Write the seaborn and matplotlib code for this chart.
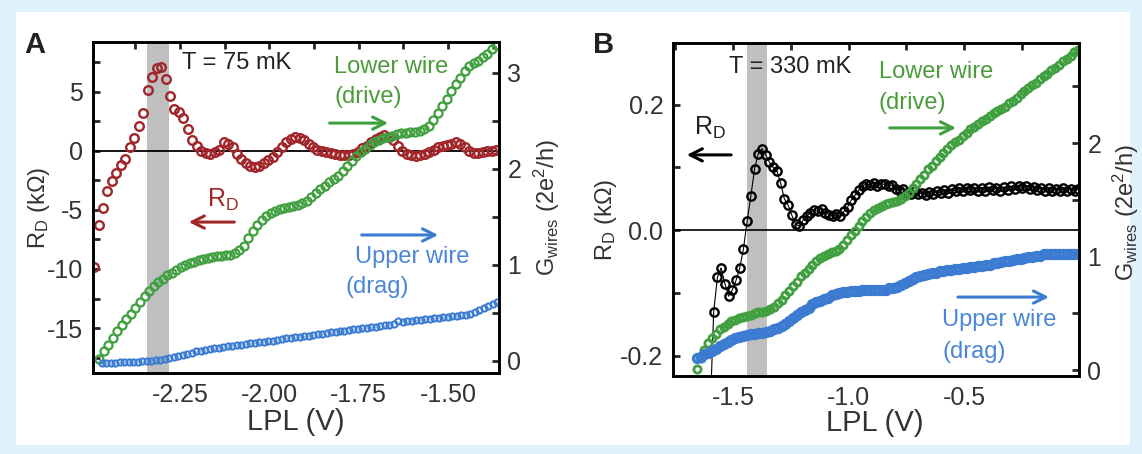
import numpy as np
import seaborn as sns
import matplotlib.pyplot as plt
from matplotlib.patches import Rectangle

sns.set_style("white")
plt.rcParams['font.family'] = ['Liberation Sans', 'DejaVu Sans']
plt.rcParams['mathtext.fontset'] = 'custom'
plt.rcParams['mathtext.rm'] = 'Liberation Sans'
plt.rcParams['mathtext.it'] = 'Liberation Sans:italic'
plt.rcParams['mathtext.default'] = 'regular'
plt.rcParams['axes.unicode_minus'] = False

# ---- panel A data (T = 75 mK) ----
rd_a_range = (-2.490, -1.365)
rd_a = [-9.8, -6.3, -4.8, -3.4, -2.6, -1.9, -1.2, -0.7, 0.3, 1.1,
        2.1, 3.2, 5.1, 6.2, 7.0, 7.1, 6.1, 4.6, 3.5, 3.3,
        2.8, 1.8, 0.9, 0.4, 0.0, -0.2, -0.25, -0.1, 0.1, 0.7,
        0.6, 0.3, -0.3, -0.7, -1.0, -1.3, -1.4, -1.3, -1.0, -0.8,
        -0.5, -0.1, 0.3, 0.7, 1.0, 1.15, 1.1, 0.9, 0.6, 0.3,
        0.1, 0.0, -0.1, -0.2, -0.3, -0.35, -0.4, -0.35, -0.3, -0.1,
        0.2, 0.4, 0.7, 1.0, 1.2, 1.3, 1.2, 0.9, 0.4, 0.0,
        -0.3, -0.4, -0.45, -0.4, -0.3, -0.1, 0.1, 0.3, 0.4, 0.45,
        0.6, 0.7, 0.6, 0.3, 0.0, -0.2, -0.2, -0.1, 0.0, 0.0, 0.05]

g_low_a_range = (-2.475, -1.365)
g_low_a = [0.02, 0.10, 0.17, 0.24, 0.31, 0.37, 0.44, 0.49, 0.55, 0.61,
           0.68, 0.73, 0.78, 0.82, 0.85, 0.89, 0.92, 0.95, 0.98, 1.00,
           1.02, 1.03, 1.05, 1.06, 1.07, 1.08, 1.09, 1.09, 1.10, 1.10,
           1.12, 1.15, 1.20, 1.28, 1.35, 1.42, 1.47, 1.51, 1.54, 1.56,
           1.58, 1.59, 1.60, 1.61, 1.62, 1.64, 1.67, 1.71, 1.75, 1.79,
           1.82, 1.86, 1.89, 1.93, 1.98, 2.03, 2.08, 2.13, 2.17, 2.21,
           2.25, 2.28, 2.30, 2.32, 2.33, 2.34, 2.36, 2.37, 2.37, 2.38,
           2.38, 2.39, 2.41, 2.45, 2.51, 2.58, 2.65, 2.73, 2.81, 2.88,
           2.95, 3.02, 3.07, 3.10, 3.12, 3.16, 3.20, 3.25, 3.29]

g_up_a_range = (-2.468, -1.362)
g_up_a = [-0.02, -0.02, -0.02, -0.02, -0.015, -0.015, -0.01, -0.01, -0.01, -0.005,
          0.0, 0.0, 0.01, 0.015, 0.02, 0.03, 0.045, 0.055, 0.065, 0.075,
          0.085, 0.10, 0.105, 0.115, 0.12, 0.13, 0.14, 0.15, 0.155, 0.16,
          0.165, 0.17, 0.175, 0.185, 0.19, 0.195, 0.20, 0.205, 0.21, 0.22,
          0.23, 0.235, 0.24, 0.245, 0.25, 0.26, 0.265, 0.27, 0.28, 0.285,
          0.29, 0.30, 0.305, 0.31, 0.315, 0.32, 0.33, 0.335, 0.34, 0.345,
          0.35, 0.355, 0.36, 0.37, 0.375, 0.39, 0.42, 0.41, 0.415, 0.42,
          0.425, 0.43, 0.435, 0.44, 0.445, 0.45, 0.455, 0.46, 0.465, 0.47,
          0.475, 0.48, 0.49, 0.51, 0.53, 0.55, 0.57, 0.59, 0.61]

# ---- panel B data (T = 330 mK) ----
rd_b_range = (-1.600, -0.005)
rd_b = [-0.30, -0.13, -0.075, -0.06, -0.085, -0.105, -0.095, -0.08, -0.06, -0.03,
        0.015, 0.055, 0.098, 0.122, 0.13, 0.12, 0.108, 0.10, 0.094, 0.075,
        0.05, 0.04, 0.024, 0.01, 0.007, 0.016, 0.022, 0.028, 0.032, 0.030,
        0.034, 0.028, 0.025, 0.022, 0.026, 0.022, 0.03, 0.037, 0.048, 0.056,
        0.064, 0.070, 0.074, 0.072, 0.075, 0.070, 0.074, 0.073, 0.070, 0.072,
        0.066, 0.063, 0.065, 0.06, 0.058, 0.062, 0.057, 0.060, 0.056, 0.061,
        0.058, 0.062, 0.059, 0.064, 0.060, 0.066, 0.062, 0.067, 0.063, 0.068,
        0.064, 0.067, 0.062, 0.068, 0.063, 0.069, 0.064, 0.067, 0.063, 0.069,
        0.064, 0.070, 0.066, 0.071, 0.067, 0.070, 0.065, 0.069, 0.064, 0.068,
        0.063, 0.067, 0.062, 0.066, 0.063, 0.067, 0.062, 0.066, 0.063, 0.065]

g_b_range = (-1.657, -0.005)
g_low_b = [0.01, 0.11, 0.18, 0.24, 0.28, 0.32, 0.36, 0.38, 0.41, 0.43,
           0.44, 0.46, 0.47, 0.48, 0.49, 0.50, 0.51, 0.51, 0.52, 0.54,
           0.56, 0.59, 0.62, 0.66, 0.70, 0.74, 0.78, 0.83, 0.86, 0.89,
           0.93, 0.96, 0.99, 1.01, 1.02, 1.04, 1.05, 1.07, 1.10, 1.15,
           1.19, 1.23, 1.27, 1.31, 1.35, 1.38, 1.41, 1.43, 1.45, 1.46,
           1.47, 1.48, 1.49, 1.51, 1.53, 1.56, 1.60, 1.64, 1.68, 1.72,
           1.77, 1.80, 1.84, 1.88, 1.91, 1.95, 1.98, 2.01, 2.03, 2.06,
           2.09, 2.12, 2.14, 2.17, 2.19, 2.21, 2.24, 2.26, 2.28, 2.30,
           2.32, 2.35, 2.37, 2.40, 2.43, 2.46, 2.48, 2.51, 2.53, 2.56,
           2.59, 2.61, 2.64, 2.66, 2.69, 2.72, 2.74, 2.77, 2.80, 2.82]

g_up_b = [0.11, 0.12, 0.14, 0.15, 0.17, 0.19, 0.21, 0.23, 0.25, 0.27,
          0.28, 0.29, 0.30, 0.31, 0.32, 0.32, 0.33, 0.33, 0.34, 0.35,
          0.36, 0.37, 0.39, 0.41, 0.43, 0.46, 0.49, 0.51, 0.53, 0.55,
          0.58, 0.60, 0.61, 0.63, 0.64, 0.66, 0.67, 0.68, 0.69, 0.69,
          0.70, 0.70, 0.70, 0.71, 0.71, 0.71, 0.71, 0.71, 0.71, 0.71,
          0.72, 0.72, 0.73, 0.75, 0.77, 0.79, 0.80, 0.82, 0.83, 0.84,
          0.85, 0.86, 0.86, 0.87, 0.87, 0.88, 0.88, 0.89, 0.89, 0.90,
          0.90, 0.91, 0.91, 0.92, 0.92, 0.93, 0.93, 0.94, 0.94, 0.95,
          0.96, 0.96, 0.97, 0.98, 0.98, 0.99, 1.00, 1.00, 1.01, 1.01,
          1.02, 1.02, 1.02, 1.02, 1.02, 1.02, 1.02, 1.02, 1.02, 1.02]

band_a = (-2.342, -2.281)
band_b = (-1.440, -1.355)

RED = '#a1262a'
GREEN = '#40a040'
BLUE = '#3b7bd2'
TXT = '#333333'


def sweep(rng, vals):
    return np.linspace(rng[0], rng[1], len(vals))


def circles(ax, x, y, color, ms, mew, lw=0):
    sns.lineplot(x=x, y=y, ax=ax, color=color, lw=lw, marker='o', markersize=ms,
                 markerfacecolor='none', markeredgecolor=color,
                 markeredgewidth=mew, sort=False, estimator=None)


def style(ax, ax2):
    for a in (ax, ax2):
        for sp in a.spines.values():
            sp.set_linewidth(1.9)
            sp.set_color('black')
    ax.tick_params(which='both', direction='in', length=5, width=2,
                   top=True, right=False, labelsize=18, labelcolor=TXT, pad=7)
    ax2.tick_params(which='both', direction='in', length=5, width=2,
                    labelsize=18, labelcolor=TXT, pad=6)


fig = plt.figure(figsize=(11.42, 4.54), dpi=100)
fig.patch.set_facecolor('#dff1fa')
fig.add_artist(Rectangle((16/1142, 9/454), 1114/1142, 433/454,
                         transform=fig.transFigure, facecolor='white',
                         edgecolor='none', zorder=-1))

# ================= panel A =================
axA = fig.add_axes([93/1142, 81/454, 406/1142, 331/454])
axA2 = axA.twinx()
axA.axvspan(*band_a, color='#bfbfbf', lw=0, zorder=0)
axA.axhline(0, color='black', lw=1.3, zorder=1)
circles(axA, sweep(rd_a_range, rd_a), rd_a, RED, 6.2, 1.7)
circles(axA2, sweep(g_low_a_range, g_low_a), g_low_a, GREEN, 5.8, 1.6)
circles(axA2, sweep(g_up_a_range, g_up_a), g_up_a, BLUE, 4.4, 1.5)

axA.set_xlim(-2.493, -1.357)
axA.set_ylim(-18.8, 9.2)
axA2.set_ylim(-0.125, 3.32)
axA.set_xticks([-2.25, -2.0, -1.75, -1.5])
axA.set_xticks([-2.375, -2.125, -1.875, -1.625, -1.375], minor=True)
axA.set_xticklabels(['-2.25', '-2.00', '-1.75', '-1.50'])
axA.set_yticks([-15, -10, -5, 0, 5])
axA.set_yticks([-17.5, -12.5, -7.5, -2.5, 2.5, 7.5], minor=True)
axA2.set_yticks([0, 1, 2, 3])
axA2.set_yticks([0.5, 1.5, 2.5], minor=True)
style(axA, axA2)

axA.set_xlabel('LPL (V)', fontsize=21, color=TXT)
axA.xaxis.set_label_coords(0.5, -0.105)
axA.set_ylabel('R$_D$ (kΩ)', fontsize=17, color=TXT)
axA.yaxis.set_label_coords(-0.101, 0.5)
axA2.set_ylabel('G$_{wires}$ (2e$^2$/h)', fontsize=17, color=TXT)
axA2.yaxis.set_label_coords(1.081, 0.5)

t = axA2.transAxes
axA2.text(0.219, 0.937, 'T = 75 mK', transform=t, fontsize=17, color='#222222', va='center')
axA2.text(0.594, 0.924, 'Lower wire', transform=t, fontsize=17, color='#4a9c3a', va='center')
axA2.text(0.594, 0.834, '(drive)', transform=t, fontsize=17, color='#4a9c3a', va='center')
axA2.annotate('', xy=(0.734, 0.755), xytext=(0.576, 0.755), xycoords=t,
              arrowprops=dict(arrowstyle='->', lw=2.2, color=GREEN, mutation_scale=22))
axA2.text(0.281, 0.523, 'R$_D$', transform=t, fontsize=18, color=RED, va='center')
axA2.annotate('', xy=(0.229, 0.456), xytext=(0.355, 0.456), xycoords=t,
              arrowprops=dict(arrowstyle='->', lw=2.2, color=RED, mutation_scale=22))
axA2.annotate('', xy=(0.857, 0.417), xytext=(0.655, 0.417), xycoords=t,
              arrowprops=dict(arrowstyle='->', lw=2.2, color=BLUE, mutation_scale=22))
axA2.text(0.645, 0.35, 'Upper wire', transform=t, fontsize=17, color='#4a86d8', va='center')
axA2.text(0.623, 0.26, '(drag)', transform=t, fontsize=17, color='#4a86d8', va='center')

# ================= panel B =================
axB = fig.add_axes([673/1142, 78/454, 406/1142, 333/454])
axB2 = axB.twinx()
axB.axvspan(*band_b, color='#bfbfbf', lw=0, zorder=0)
axB.axhline(0, color='black', lw=1.2, zorder=1)
circles(axB, sweep(rd_b_range, rd_b), rd_b, 'black', 6.0, 1.7, lw=0.8)
circles(axB2, sweep(g_b_range, g_low_b), g_low_b, GREEN, 5.2, 2.0)
circles(axB2, sweep(g_b_range, g_up_b), g_up_b, BLUE, 5.6, 2.6)

axB.set_xlim(-1.76, -0.002)
axB.set_ylim(-0.232, 0.298)
axB2.set_ylim(-0.05, 2.88)
axB.set_xticks([-1.5, -1.0, -0.5])
axB.set_xticks([-1.75, -1.25, -0.75, -0.25], minor=True)
axB.set_xticklabels(['-1.5', '-1.0', '-0.5'])
axB.set_yticks([-0.2, 0.0, 0.2])
axB.set_yticks([-0.1, 0.1], minor=True)
axB.set_yticklabels(['-0.2', '0.0', '0.2'])
axB2.set_yticks([0, 1, 2])
axB2.set_yticks([0.5, 1.5, 2.5], minor=True)
style(axB, axB2)

axB.set_xlabel('LPL (V)', fontsize=21, color=TXT)
axB.xaxis.set_label_coords(0.497, -0.10)
axB.set_ylabel('R$_D$ (kΩ)', fontsize=17, color=TXT)
axB.yaxis.set_label_coords(-0.133, 0.47)
axB2.set_ylabel('G$_{wires}$ (2e$^2$/h)', fontsize=17, color=TXT)
axB2.yaxis.set_label_coords(1.079, 0.49)

t = axB2.transAxes
axB2.text(0.138, 0.928, 'T = 330 mK', transform=t, fontsize=17, color='#222222', va='center')
axB2.text(0.507, 0.913, 'Lower wire', transform=t, fontsize=17, color='#4a9c3a', va='center')
axB2.text(0.507, 0.82, '(drive)', transform=t, fontsize=17, color='#4a9c3a', va='center')
axB2.annotate('', xy=(0.704, 0.745), xytext=(0.527, 0.745), xycoords=t,
              arrowprops=dict(arrowstyle='->', lw=2.2, color=GREEN, mutation_scale=22))
axB2.text(0.052, 0.745, 'R$_D$', transform=t, fontsize=18, color='#222222', va='center')
axB2.annotate('', xy=(0.027, 0.664), xytext=(0.15, 0.664), xycoords=t,
              arrowprops=dict(arrowstyle='->', lw=2.2, color='black', mutation_scale=22))
axB2.annotate('', xy=(0.933, 0.237), xytext=(0.695, 0.237), xycoords=t,
              arrowprops=dict(arrowstyle='->', lw=2.2, color=BLUE, mutation_scale=22))
axB2.text(0.663, 0.168, 'Upper wire', transform=t, fontsize=17, color='#4a86d8', va='center')
axB2.text(0.663, 0.072, '(drag)', transform=t, fontsize=17, color='#4a86d8', va='center')

fig.text(24/1142, 1 - 53/454, 'A', fontsize=21, fontweight='bold', color='#222222')
fig.text(593/1142, 1 - 53/454, 'B', fontsize=21, fontweight='bold', color='#222222')

fig.savefig('out.png', dpi=100, facecolor=fig.get_facecolor())
